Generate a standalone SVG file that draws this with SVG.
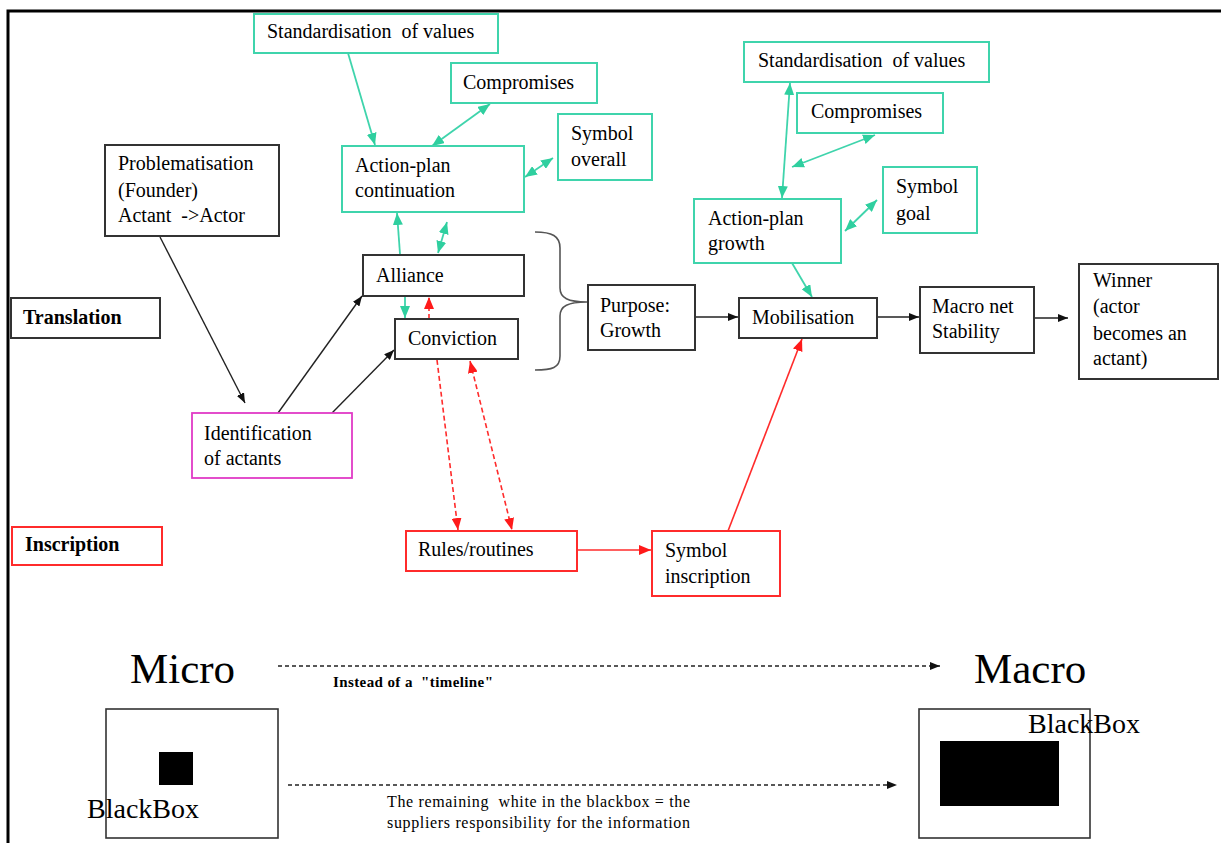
<svg xmlns="http://www.w3.org/2000/svg" width="1221" height="843" viewBox="0 0 1221 843">
  <defs>
    <style>
      text { font-family: "Liberation Serif", "Times New Roman", serif; font-size: 20px; fill: #000; white-space: pre; }
      .b { font-weight: bold; }
      .box { fill: #fff; stroke: #333; stroke-width: 2; }
      .teal { fill: #fff; stroke: #3fd4ac; stroke-width: 2; }
      .red { fill: #fff; stroke: #ff2b2b; stroke-width: 2; }
      .mag { fill: #fff; stroke: #e03ac6; stroke-width: 1.8; }
      .lk { stroke: #222; stroke-width: 1.4; fill: none; }
      .lt { stroke: #3fd4ac; stroke-width: 1.8; fill: none; }
      .lr { stroke: #ff2b2b; stroke-width: 1.6; fill: none; }
      .dr { stroke: #ff2b2b; stroke-width: 1.6; fill: none; stroke-dasharray: 5 3; }
      .dk { stroke: #222; stroke-width: 1.3; fill: none; stroke-dasharray: 4 3; }
    </style>
    <marker id="ak" viewBox="0 0 10 8" refX="10" refY="4" markerWidth="10" markerHeight="8" markerUnits="userSpaceOnUse" orient="auto-start-reverse">
      <path d="M0,0 L10,4 L0,8 z" fill="#111"/>
    </marker>
    <marker id="at" viewBox="0 0 12 10" refX="12" refY="5" markerWidth="12" markerHeight="10" markerUnits="userSpaceOnUse" orient="auto-start-reverse">
      <path d="M0,0 L12,5 L0,10 z" fill="#2fcf9f"/>
    </marker>
    <marker id="ar" viewBox="0 0 12 10" refX="12" refY="5" markerWidth="12" markerHeight="10" markerUnits="userSpaceOnUse" orient="auto-start-reverse">
      <path d="M0,0 L12,5 L0,10 z" fill="#ff1a1a"/>
    </marker>
  </defs>

  <rect width="1221" height="843" fill="#fff"/>

  <!-- page frame -->
  <path d="M8,843 L8,11 L1221,11" fill="none" stroke="#000" stroke-width="3"/>

  <!-- connectors -->
  <g id="connectors">
    <line class="lt" x1="348" y1="53" x2="375" y2="145" marker-end="url(#at)"/>
    <line class="lt" x1="490" y1="104" x2="432" y2="146" marker-start="url(#at)" marker-end="url(#at)"/>
    <line class="lt" x1="553" y1="158" x2="525" y2="177" marker-start="url(#at)" marker-end="url(#at)"/>
    <line class="lt" x1="400" y1="254" x2="397" y2="213" marker-end="url(#at)"/>
    <line class="lt" x1="447" y1="222" x2="438" y2="253" marker-start="url(#at)" marker-end="url(#at)"/>
    <line class="lt" x1="405" y1="296" x2="405" y2="318" marker-end="url(#at)"/>
    <line class="dr" x1="429" y1="319" x2="429" y2="297" marker-end="url(#ar)"/>
    <line class="dr" x1="437" y1="360" x2="458" y2="530" marker-end="url(#ar)"/>
    <line class="dr" x1="470" y1="361" x2="512" y2="530" marker-start="url(#ar)" marker-end="url(#ar)"/>
    <line class="lr" x1="577" y1="550" x2="651" y2="550" marker-end="url(#ar)"/>
    <line class="lr" x1="728" y1="531" x2="802" y2="339" marker-end="url(#ar)"/>
    <line class="lk" x1="160" y1="237" x2="245" y2="403" marker-end="url(#ak)"/>
    <line class="lk" x1="278" y1="413" x2="362" y2="296" marker-end="url(#ak)"/>
    <line class="lk" x1="332" y1="413" x2="394" y2="350" marker-end="url(#ak)"/>
    <line class="lk" x1="695" y1="317" x2="738" y2="317" marker-end="url(#ak)"/>
    <line class="lk" x1="877" y1="317" x2="919" y2="317" marker-end="url(#ak)"/>
    <line class="lk" x1="1034" y1="318" x2="1068" y2="318" marker-end="url(#ak)"/>
    <line class="lt" x1="792" y1="263" x2="812" y2="297" marker-end="url(#at)"/>
    <line class="lt" x1="790" y1="83" x2="782" y2="198" marker-start="url(#at)" marker-end="url(#at)"/>
    <line class="lt" x1="875" y1="135" x2="792" y2="167" marker-start="url(#at)" marker-end="url(#at)"/>
    <line class="lt" x1="877" y1="200" x2="845" y2="231" marker-start="url(#at)" marker-end="url(#at)"/>
    <line class="dk" x1="278" y1="666" x2="940" y2="666" marker-end="url(#ak)"/>
    <line class="dk" x1="288" y1="785" x2="897" y2="785" marker-end="url(#ak)"/>
  </g>

  <!-- curly brace grouping Alliance and Conviction -->
  <path id="brace" d="M535,232 C552,232 560,236 560,248 L560,288 C560,298 568,302 587,302 C568,302 560,306 560,316 L560,356 C560,368 552,370 535,370" fill="none" stroke="#555" stroke-width="1.6"/>

  <!-- nodes -->
  <g id="std-left"><rect class="teal" x="254" y="14" width="244" height="39"/><text x="267" y="38">Standardisation  of values</text></g>
  <g id="comp-left"><rect class="teal" x="451" y="63" width="146" height="40"/><text x="463" y="89">Compromises</text></g>
  <g id="symbol-overall"><rect class="teal" x="558" y="114" width="94" height="66"/><text x="571" y="140">Symbol</text><text x="571" y="166">overall</text></g>
  <g id="ap-continuation"><rect class="teal" x="342" y="146" width="182" height="66"/><text x="355" y="172">Action-plan</text><text x="355" y="197">continuation</text></g>
  <g id="problematisation"><rect class="box" x="105" y="145" width="174" height="91"/><text x="118" y="170">Problematisation</text><text x="118" y="197">(Founder)</text><text x="118" y="222">Actant  -&gt;Actor</text></g>
  <g id="alliance"><rect class="box" x="363" y="255" width="161" height="41"/><text x="376" y="282">Alliance</text></g>
  <g id="conviction"><rect class="box" x="395" y="319" width="123" height="40"/><text x="408" y="345">Conviction</text></g>
  <g id="translation"><rect class="box" x="11" y="298" width="149" height="40"/><text class="b" x="23" y="324">Translation</text></g>
  <g id="identification"><rect class="mag" x="192" y="413" width="160" height="65"/><text x="204" y="440">Identification</text><text x="204" y="465">of actants</text></g>
  <g id="inscription"><rect class="red" x="12" y="527" width="150" height="38"/><text class="b" x="25" y="551">Inscription</text></g>
  <g id="rules"><rect class="red" x="406" y="531" width="171" height="40"/><text x="418" y="556">Rules/routines</text></g>
  <g id="symbol-inscription"><rect class="red" x="652" y="531" width="128" height="65"/><text x="665" y="557">Symbol</text><text x="665" y="583">inscription</text></g>
  <g id="purpose"><rect class="box" x="588" y="285" width="107" height="65"/><text x="600" y="312">Purpose:</text><text x="600" y="337">Growth</text></g>
  <g id="mobilisation"><rect class="box" x="739" y="298" width="138" height="40"/><text x="752" y="324">Mobilisation</text></g>
  <g id="macro-net"><rect class="box" x="920" y="287" width="114" height="66"/><text x="932" y="313">Macro net</text><text x="932" y="338">Stability</text></g>
  <g id="winner"><rect class="box" x="1079" y="264" width="139" height="115"/><text x="1093" y="287">Winner</text><text x="1093" y="313">(actor</text><text x="1093" y="340">becomes an</text><text x="1093" y="365">actant)</text></g>
  <g id="std-right"><rect class="teal" x="744" y="42" width="245" height="40"/><text x="758" y="67">Standardisation  of values</text></g>
  <g id="comp-right"><rect class="teal" x="797" y="93" width="146" height="40"/><text x="811" y="118">Compromises</text></g>
  <g id="symbol-goal"><rect class="teal" x="883" y="167" width="94" height="66"/><text x="896" y="193">Symbol</text><text x="896" y="220">goal</text></g>
  <g id="ap-growth"><rect class="teal" x="694" y="199" width="147" height="64"/><text x="708" y="225">Action-plan</text><text x="708" y="250">growth</text></g>

  <!-- micro / macro scale -->
  <g id="micro">
    <text x="130" y="683" style="font-size:43px">Micro</text>
    <rect x="106" y="709" width="172" height="129" fill="#fff" stroke="#333" stroke-width="1.6"/>
    <rect x="159" y="752" width="34" height="33" fill="#000"/>
    <text x="87" y="818" style="font-size:28px">BlackBox</text>
  </g>
  <g id="macro">
    <text x="974" y="683" style="font-size:43px">Macro</text>
    <rect x="919" y="709" width="171" height="129" fill="#fff" stroke="#333" stroke-width="1.6"/>
    <rect x="940" y="741" width="119" height="65" fill="#000"/>
    <text x="1028" y="733" style="font-size:28px">BlackBox</text>
  </g>
  <text class="b" x="333" y="687" style="font-size:15px" textLength="160">Instead of a  "timeline"</text>
  <text x="387" y="807" style="font-size:16px" textLength="303">The remaining  white in the blackbox = the</text>
  <text x="387" y="828" style="font-size:16px" textLength="303">suppliers responsibility for the information</text>
</svg>
